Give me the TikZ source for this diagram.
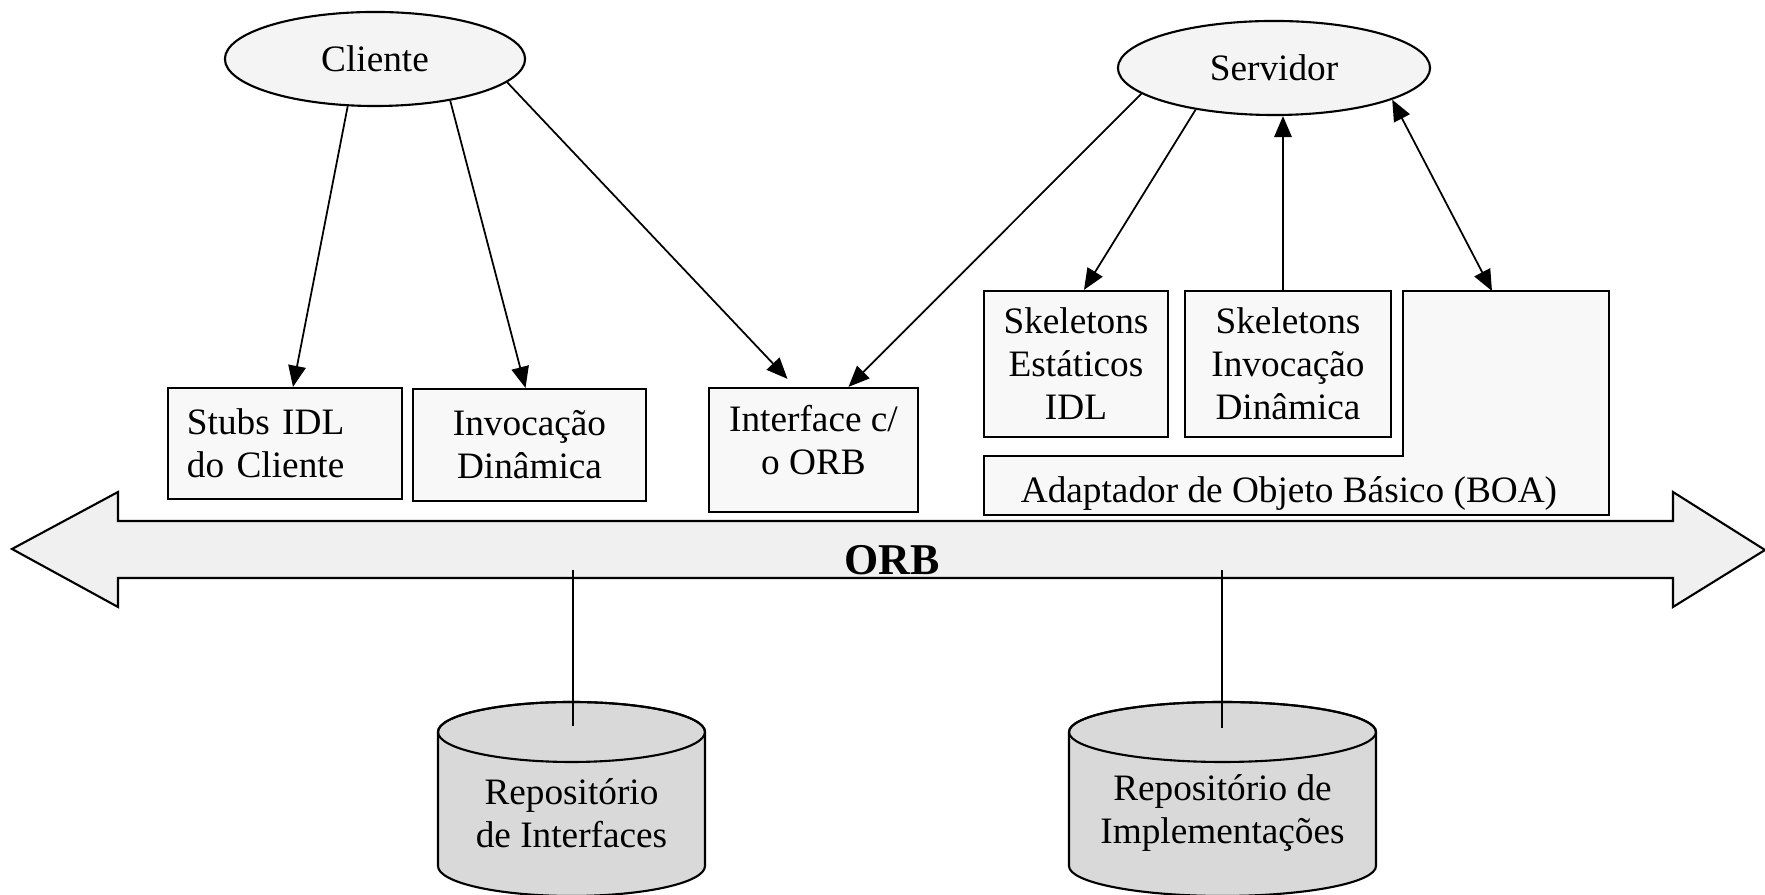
\documentclass[tikz,border=0pt]{standalone}
\usepackage{fontspec}
\setmainfont{Liberation Serif}
\usetikzlibrary{shapes.geometric, arrows.meta}

\definecolor{entfill}{HTML}{F4F4F4}
\definecolor{boxfill}{HTML}{F8F8F8}
\definecolor{busfill}{HTML}{F0F0F0}
\definecolor{repfill}{HTML}{D9D9D9}

\begin{document}
\begin{tikzpicture}[x=0.01cm, y=-0.01cm,
    txt/.style={font=\fontsize{10.6}{12.2}\selectfont},
    ent/.style={txt, ellipse, draw, fill=entfill, line width=0.6pt, minimum height=0.94cm, inner sep=0pt},
    box/.style={txt, draw, fill=boxfill, line width=0.6pt, align=center, inner sep=0pt},
    arr/.style={-{Triangle[length=6pt, width=5pt]}, line width=0.5pt},
    darr/.style={{Triangle[length=6pt, width=5pt]}-{Triangle[length=6pt, width=5pt]}, line width=0.5pt}]

    % Fix the page size and cut the repositories at the bottom
    \useasboundingbox (0,0) rectangle (1765,895);
    \clip (0,0) rectangle (1765,895);

    % Client and server
    \node[ent, minimum width=3.0cm] (cliente) at (375,59) {Cliente};
    \node[ent, minimum width=3.12cm] (servidor) at (1274,68) {Servidor};

    % Client side boxes
    \node[box, minimum width=2.34cm, minimum height=1.11cm, text width=1.96cm, align=left] (stubs) at (285,443.5) {Stubs IDL\\do Cliente};
    \node[box, minimum width=2.33cm, minimum height=1.12cm] (invoc) at (529.5,445) {Invocação\\Dinâmica};
    \node[box, minimum width=2.09cm, minimum height=1.24cm] (iface) at (813.5,450) {Interface c/\\o ORB\\[-6.5pt]\mbox{}};

    % Server side boxes
    \node[box, minimum width=1.84cm, minimum height=1.46cm] (skel1) at (1076,364) {Skeletons\\Estáticos\\IDL};
    \node[box, minimum width=2.06cm, minimum height=1.46cm] (skel2) at (1288,364) {Skeletons\\Invocação\\Dinâmica};

    % Object adapter (L-shaped)
    \draw[line width=0.6pt, fill=boxfill] (984,456) -- (1403,456) -- (1403,291) -- (1609,291) -- (1609,515) -- (984,515) -- cycle;
    \node[txt] (boa) at (1289,494) {Adaptador de Objeto Básico (BOA)};
    \coordinate (boa top) at (1492,291);

    % ORB bus
    \filldraw[line width=0.6pt, fill=busfill] (12,549) -- (118,492) -- (118,521) -- (1673,521) -- (1673,492) -- (1765,550)
        -- (1673,607) -- (1673,578) -- (118,578) -- (118,607) -- cycle;
    \node[font=\fontsize{12.5}{15}\selectfont\bfseries] (orb) at (892,560) {ORB};

    % Repositories
    \filldraw[line width=0.6pt, fill=repfill] (438,732) -- (438,866) arc[start angle=180, end angle=0, x radius=133.5, y radius=30]
        -- (705,732) arc[start angle=0, end angle=-180, x radius=133.5, y radius=30] -- cycle;
    \draw[line width=0.6pt] (571.5,732) ellipse[x radius=133.5, y radius=30];
    \node[txt, align=center] (repint) at (571.5,813) {Repositório\\de Interfaces};

    \filldraw[line width=0.6pt, fill=repfill] (1069,732) -- (1069,866) arc[start angle=180, end angle=0, x radius=153.5, y radius=30]
        -- (1376,732) arc[start angle=0, end angle=-180, x radius=153.5, y radius=30] -- cycle;
    \draw[line width=0.6pt] (1222.5,732) ellipse[x radius=153.5, y radius=30];
    \node[txt, align=center] (repimp) at (1222.5,813) {Repositório de\\Implementações};

    % Links from the bus to the repositories
    \coordinate (ri bus) at (573,570);
    \coordinate (ri top) at (573,726);
    \coordinate (rm bus) at (1222,570);
    \coordinate (rm top) at (1222,728);
    \draw[line width=0.5pt] (ri bus) -- (ri top);
    \draw[line width=0.5pt] (rm bus) -- (rm top);

    % Client calls
    \draw[arr] (cliente.-120) -- ([shift={(8,0)}]stubs.north);
    \draw[arr] (cliente.-29) -- ([shift={(-4,0)}]invoc.north);
    \draw[arr] (cliente.-10) -- ([shift={(-26,-8)}]iface.north);

    % Server calls
    \draw[arr] (servidor.191) -- ([shift={(35,0)}]iface.north);
    \draw[arr] (servidor.-152) -- ([shift={(8,0)}]skel1.north);
    \draw[arr] ([shift={(-5,0)}]skel2.north) -- ([shift={(-5,0)}]skel2.north |- servidor.south);
    \draw[darr] (boa top) -- (servidor.-15);
\end{tikzpicture}
\end{document}
